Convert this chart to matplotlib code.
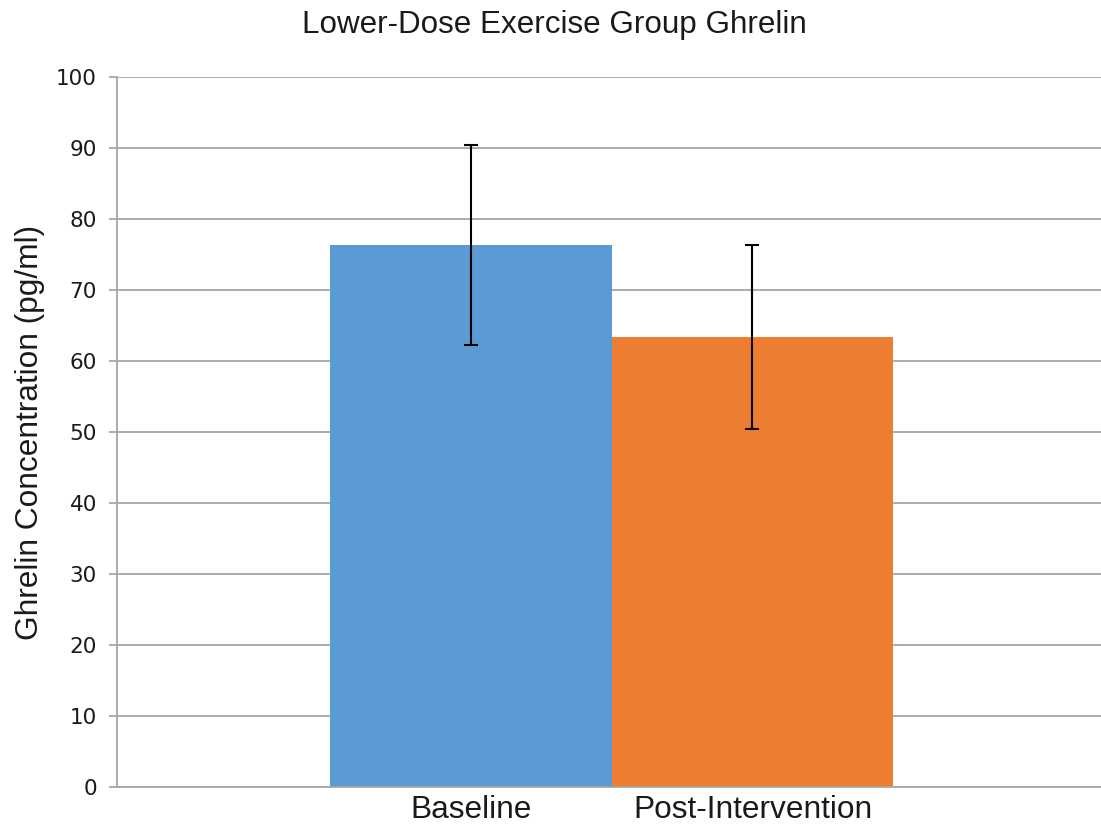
import matplotlib
matplotlib.use("Agg")
import matplotlib.pyplot as plt

# data
groups = ["Baseline", "Post-Intervention"]
means = [76.3, 63.4]
errors = [14.1, 13.0]
colors = ["#5B9BD5", "#ED7D31"]
yticks = [0, 10, 20, 30, 40, 50, 60, 70, 80, 90, 100]

W, H = 1101, 832
fig = plt.figure(figsize=(W / 100, H / 100), dpi=100)
ax = fig.add_axes([116.5 / W, (H - 786.7) / H, (W - 116.5) / W, (786.7 - 77.3) / H])

x = list(range(len(groups)))
ax.bar(x, means, width=1.0, color=colors, zorder=2)
ax.errorbar(x, means, yerr=errors, fmt="none", ecolor="black",
            elinewidth=1.5, capsize=5, capthick=1.5, zorder=3)

ax.set_xlim(-1.259, 2.238)
ax.set_ylim(0, 100)
ax.set_yticks(yticks)
ax.set_xticks(x)
ax.set_xticklabels(groups, family="Liberation Sans", fontsize=22.8, color="#1a1a1a")
ax.tick_params(axis="x", length=0, pad=6)
ax.tick_params(axis="y", length=6, width=1.3, color="#A6A6A6", labelsize=15.5,
               labelcolor="#1a1a1a", pad=8)

ax.yaxis.grid(True, color="#A6A6A6", linewidth=1.3, zorder=0)
ax.set_axisbelow(True)
for s in ["top", "right"]:
    ax.spines[s].set_visible(False)
for s in ["left", "bottom"]:
    ax.spines[s].set_color("#A6A6A6")
    ax.spines[s].set_linewidth(1.3)

ax.set_ylabel("Ghrelin Concentration (pg/ml)", family="Liberation Sans",
              fontsize=22.8, color="#1a1a1a", labelpad=8)
fig.text(554.5 / W, 1 - 25 / H, "Lower-Dose Exercise Group Ghrelin",
         ha="center", va="center", family="Liberation Sans", fontsize=22.6, color="#1a1a1a")

fig.savefig("out.png", dpi=100)
